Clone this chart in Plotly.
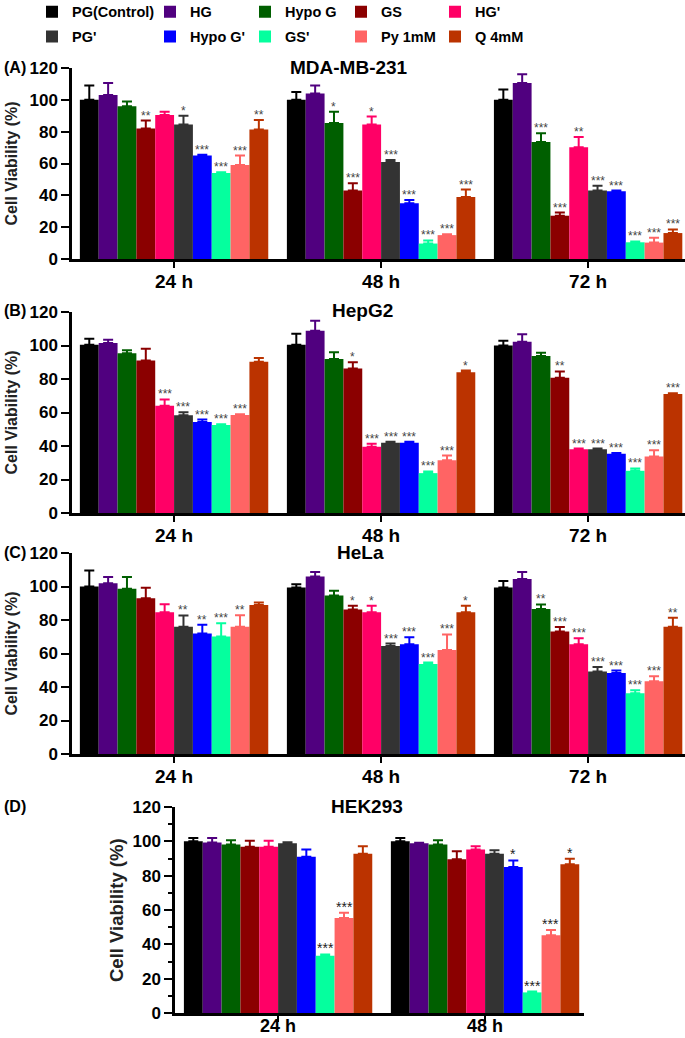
import plotly.graph_objects as go

# treatments in bar order
TREATMENTS = ["PG(Control)", "HG", "Hypo G", "GS", "HG'",
              "PG'", "Hypo G'", "GS'", "Py 1mM", "Q 4mM"]
COLORS = ["#000000", "#50007f", "#005f00", "#8b0000", "#ff0066",
          "#333333", "#0000ff", "#05ff9e", "#ff6464", "#bb3300"]

TIMES3 = ["24 h", "48 h", "72 h"]
TIMES2 = ["24 h", "48 h"]

# (A) MDA-MB-231 ; one row per time point, one value per treatment
MDA_MEAN = [[100, 103, 96, 82, 90.5, 84.5, 65, 54, 59, 81.3],
            [100, 104, 85.5, 43, 84.5, 61, 35, 9.7, 15, 39],
            [100, 110.5, 73.5, 27.2, 70.2, 43, 42.5, 10.5, 10.3, 16.3]]
MDA_ERR = [[9, 7.5, 3, 5, 2, 5.5, 0.5, 0.5, 6, 6],
           [5, 5, 7, 4.6, 5, 1.2, 2, 2, 0.5, 4.6],
           [6.5, 5.6, 5.5, 2, 6.5, 3, 0.5, 0.5, 3, 2.3]]
MDA_SIG = [["", "", "", "**", "", "*", "***", "***", "***", "**"],
           ["", "", "*", "***", "*", "***", "***", "***", "***", "***"],
           ["", "", "***", "***", "**", "***", "***", "***", "***", "***"]]

# (B) HepG2
HEP_MEAN = [[100.5, 101.5, 95.3, 91, 64, 58.3, 54.3, 52.5, 58.5, 90.3],
            [100.5, 108.8, 92, 86.3, 39.5, 42, 42, 23.8, 31.5, 84],
            [100, 102.3, 93.7, 80.7, 38, 38, 35.3, 25.2, 33.8, 71]]
HEP_ERR = [[3.5, 2, 1.8, 7, 3.8, 1.8, 1.5, 0.5, 0.5, 2.2],
           [6.5, 6, 4, 3.7, 1.8, 0.5, 0.5, 1, 2.8, 1],
           [2.8, 4.4, 2, 3.8, 0.5, 0.5, 0.5, 1.4, 3.6, 0.5]]
HEP_SIG = [["", "", "", "", "***", "***", "***", "***", "***", ""],
           ["", "", "", "*", "***", "***", "***", "***", "***", "*"],
           ["", "", "", "**", "***", "***", "***", "***", "***", "***"]]

# (C) HeLa
HELA_MEAN = [[100, 102, 98.6, 93, 84.7, 76, 72, 70.2, 76, 89],
             [99.4, 105.9, 94.6, 86.3, 84.7, 64.5, 65.5, 53.8, 62.1, 84.7],
             [99.4, 104.5, 86.5, 73.2, 65.5, 49.2, 48.4, 36.3, 43.4, 76]]
HELA_ERR = [[9.5, 3.7, 7, 6.2, 4.7, 6.7, 5.2, 7.8, 6.9, 1.4],
            [2, 2.8, 2.8, 2.2, 3.8, 1.4, 4.2, 0.8, 9.3, 3.8],
            [3.9, 4.2, 2.8, 2.6, 3.6, 2.8, 1.4, 1.8, 3, 5.3]]
HELA_SIG = [["", "", "", "", "", "**", "**", "***", "**", ""],
            ["", "", "", "*", "*", "***", "***", "***", "***", "*"],
            ["", "", "**", "***", "***", "***", "***", "***", "***", "**"]]

# (D) HEK293
HEK_MEAN = [[100, 99.3, 98.1, 96.8, 96.8, 98.9, 91, 33.3, 55.4, 92.7],
            [100, 98.9, 98.1, 89.6, 95.2, 92.7, 85, 12, 45.3, 86.7]]
HEK_ERR = [[2, 2.7, 2.5, 3.5, 3.5, 0.5, 4.2, 0.8, 3, 4.5],
           [2, 0.3, 2.5, 4.6, 2, 2.1, 3.9, 0.5, 3.1, 3.1]]
HEK_SIG = [["", "", "", "", "", "", "", "***", "***", ""],
           ["", "", "", "", "", "", "*", "***", "***", "*"]]

BARGAP = 0.09
W, H = 685, 1038


def px_x(p):
    return p / W


def px_y(p):
    return 1 - p / H


# panel layout (pixels): x0, x1, top, bottom, x-range
PANELS = [
    dict(mean=MDA_MEAN, err=MDA_ERR, sig=MDA_SIG, times=TIMES3, title="MDA-MB-231",
         letter="(A)", x0=72, x1=685, top=68, bot=259, rng=[-0.493, 2.468],
         tcx=349, ttl=11, ttl_size=16, star=12, minor=False, standoff=-3, xfs=19),
    dict(mean=HEP_MEAN, err=HEP_ERR, sig=HEP_SIG, times=TIMES3, title="HepG2",
         letter="(B)", x0=72, x1=685, top=312, bot=513, rng=[-0.493, 2.468],
         tcx=362, ttl=11, ttl_size=16, star=12, minor=False, standoff=-3, xfs=19),
    dict(mean=HELA_MEAN, err=HELA_ERR, sig=HELA_SIG, times=TIMES3, title="HeLa",
         letter="(C)", x0=72, x1=685, top=553, bot=754, rng=[-0.493, 2.468],
         tcx=360, ttl=11, ttl_size=16, star=12, minor=False, standoff=-3, xfs=19),
    dict(mean=HEK_MEAN, err=HEK_ERR, sig=HEK_SIG, times=TIMES2, title="HEK293",
         letter="(D)", x0=175, x1=584, top=807, bot=1013, rng=[-0.498, 1.478],
         tcx=367, ttl=116, ttl_size=18.5, star=14, minor=True, standoff=-11, xfs=18),
]

fig = go.Figure()
annotations = []
bold = dict(family="Arial", color="black", weight="bold")

for p, pan in enumerate(PANELS):
    sfx = "" if p == 0 else str(p + 1)
    nt = len(pan["times"])
    for i, name in enumerate(TREATMENTS):
        col = i % 5
        fig.add_trace(go.Bar(
            x=list(range(nt)),
            y=[pan["mean"][t][i] for t in range(nt)],
            error_y=dict(type="data", symmetric=False,
                         array=[pan["err"][t][i] for t in range(nt)],
                         arrayminus=[0] * nt,
                         color=COLORS[i], thickness=2, width=5),
            marker=dict(color=COLORS[i], line=dict(width=0)),
            name=name,
            legendgroup=name,
            legend="legend" if col == 0 else f"legend{col + 1}",
            showlegend=(p == 0),
            xaxis="x" + sfx, yaxis="y" + sfx,
        ))
        # significance stars above the error bars
        for t in range(nt):
            s = pan["sig"][t][i]
            if not s:
                continue
            annotations.append(dict(
                x=t + (i - 4.5) * (1 - BARGAP) / 10,
                y=pan["mean"][t][i] + pan["err"][t][i],
                xref="x" + sfx, yref="y" + sfx, text=s, showarrow=False,
                yanchor="bottom", yshift=-4,
                font=dict(family="Arial", size=pan["star"],
                          color="#222222" if pan["minor"] else "#444444"),
            ))

    xa = dict(domain=[px_x(pan["x0"]), px_x(pan["x1"])], range=pan["rng"],
              anchor="y" + sfx, tickvals=list(range(nt)), ticktext=pan["times"],
              ticks="outside", ticklen=6, tickwidth=2, tickcolor="black",
              ticklabelstandoff=pan["standoff"],
              showline=True, linewidth=2.5, linecolor="black",
              showgrid=False, zeroline=False, automargin=False,
              tickfont=dict(size=pan["xfs"], **bold))
    ya = dict(domain=[px_y(pan["bot"]), px_y(pan["top"])], range=[0, 120],
              anchor="x" + sfx, dtick=20, ticks="outside", ticklen=8,
              tickwidth=2, tickcolor="black",
              showline=True, linewidth=2.5, linecolor="black",
              showgrid=False, zeroline=False, automargin=False,
              tickfont=dict(size=17, **bold))
    if pan["minor"]:
        ya["minor"] = dict(dtick=10, ticks="outside", ticklen=4,
                           tickwidth=1.5, tickcolor="black")
    fig.update_layout({"xaxis" + sfx: xa, "yaxis" + sfx: ya})

    annotations.append(dict(
        x=px_x(pan["tcx"]), y=px_y(pan["top"] - 1), xref="paper", yref="paper",
        text=pan["title"], showarrow=False, xanchor="center", yanchor="middle",
        font=dict(size=19, **bold)))
    annotations.append(dict(
        x=px_x(2), y=px_y(pan["top"] - 1), xref="paper", yref="paper",
        text=pan["letter"], showarrow=False, xanchor="left", yanchor="middle",
        font=dict(size=16, **bold)))
    annotations.append(dict(
        x=px_x(pan["ttl"]), y=px_y((pan["top"] + pan["bot"]) / 2),
        xref="paper", yref="paper", text="Cell Viability (%)", showarrow=False,
        textangle=-90, xanchor="center", yanchor="middle",
        font=dict(size=pan["ttl_size"], family="Arial", color="#222222",
                  weight="bold")))

legend_x = [32, 150, 245, 341, 435]
leg = {}
for k, lx in enumerate(legend_x):
    leg["legend" if k == 0 else f"legend{k + 1}"] = dict(
        x=px_x(lx), y=1.004, xanchor="left", yanchor="top",
        orientation="v", bgcolor="rgba(0,0,0,0)", borderwidth=0,
        tracegroupgap=3, itemclick=False, itemdoubleclick=False,
        font=dict(size=14.5, **bold))

fig.update_layout(
    width=W, height=H,
    margin=dict(l=0, r=0, t=0, b=0, pad=0, autoexpand=False),
    paper_bgcolor="white", plot_bgcolor="white",
    barmode="group", bargap=BARGAP, bargroupgap=0,
    showlegend=True,
    annotations=annotations,
    font=dict(family="Arial", color="black"),
    **leg,
)

# page body has a default 8px margin; remove it so the figure fills the window
fig.write_html("out.html", config={"displayModeBar": False},
               post_script="document.body.style.margin='0px';")
